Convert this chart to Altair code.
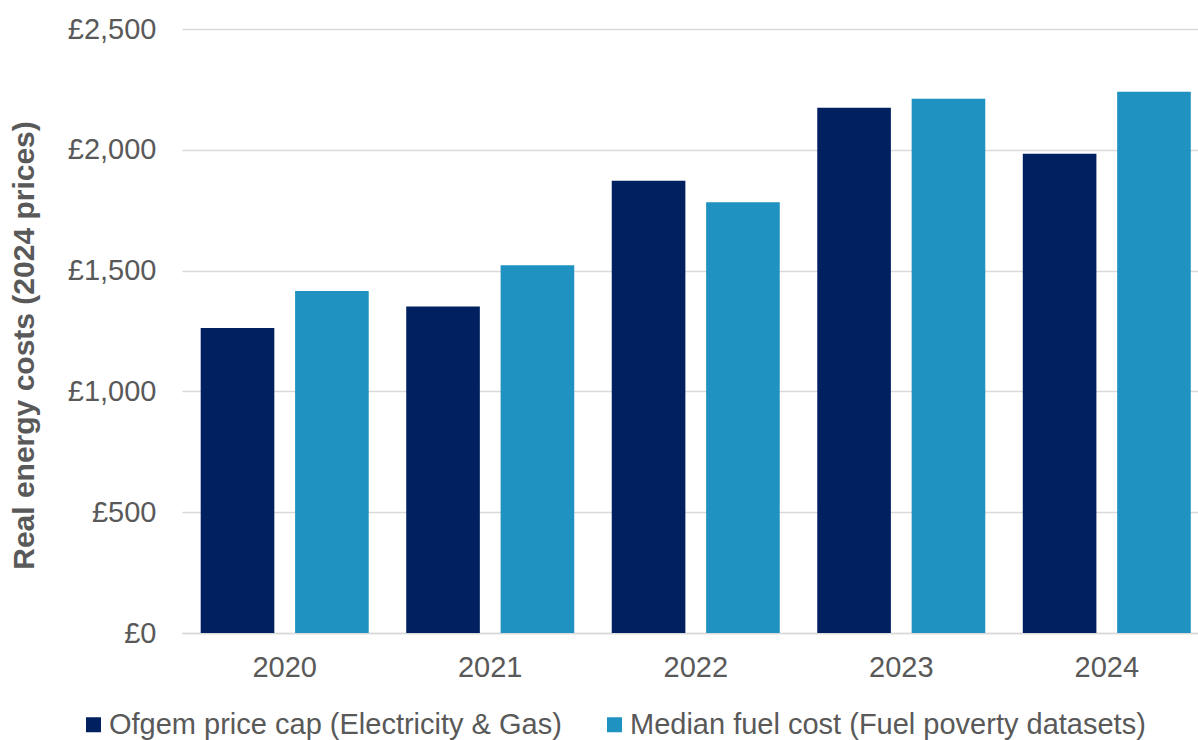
import altair as alt
import pandas as pd

years = ["2020", "2021", "2022", "2023", "2024"]
series_names = ["Ofgem price cap (Electricity & Gas)", "Median fuel cost (Fuel poverty datasets)"]
ofgem = [1262, 1351, 1872, 2174, 1984]
median = [1416, 1522, 1783, 2211, 2240]
colors = ["#002060", "#1F92C1"]

rows = []
for i, y in enumerate(years):
    rows.append({"year": y, "series": series_names[0], "value": ofgem[i]})
    rows.append({"year": y, "series": series_names[1], "value": median[i]})
df = pd.DataFrame(rows)

FONT = "Liberation Sans"
GREY = "#595959"

chart = alt.Chart(df).mark_bar(clip=False).encode(
    x=alt.X("year:N", sort=years,
            scale=alt.Scale(range=[0, 1027.5], paddingInner=0.1825, paddingOuter=0.091),
            axis=alt.Axis(title=None, labelAngle=0, labelFontSize=29, labelColor=GREY,
                          labelFont=FONT, tickSize=0, labelPadding=20,
                          domainColor="#d9d9d9", domainWidth=1.5)),
    xOffset=alt.XOffset("series:N", sort=series_names,
                        scale=alt.Scale(paddingInner=0.22, paddingOuter=0)),
    y=alt.Y("value:Q",
            scale=alt.Scale(domain=[0, 2500], nice=False),
            axis=alt.Axis(values=[0, 500, 1000, 1500, 2000, 2500],
                          labelExpr="'£' + format(datum.value, ',')",
                          labelFontSize=29, labelColor=GREY, labelFont=FONT,
                          tickSize=0, labelPadding=26, domain=False,
                          gridColor="#d9d9d9", gridWidth=1.5,
                          title="Real energy costs (2024 prices)",
                          titleFont=FONT, titleFontSize=30, titleFontWeight="bold",
                          titleColor=GREY, titleAngle=-90, titleAlign="center",
                          titleBaseline="middle", titleX=-158, titleY=316)),
    color=alt.Color("series:N", sort=series_names,
                    scale=alt.Scale(domain=series_names, range=colors),
                    legend=alt.Legend(title=None, orient="none", legendX=-103, legendY=681,
                                      direction="horizontal", symbolType="square",
                                      symbolSize=225, symbolStrokeWidth=0,
                                      labelFontSize=29, labelFont=FONT, labelColor=GREY,
                                      labelLimit=700, labelOffset=1, columnPadding=38,
                                      padding=0)),
).properties(
    width=1016, height=604,
    background="white",
    autosize=alt.AutoSizeParams(type="none"),
    padding={"left": 182, "top": 29, "right": 0, "bottom": 107},
).configure_view(stroke=None)

chart.save("out.html", embed_options={"renderer": "svg", "actions": False})
